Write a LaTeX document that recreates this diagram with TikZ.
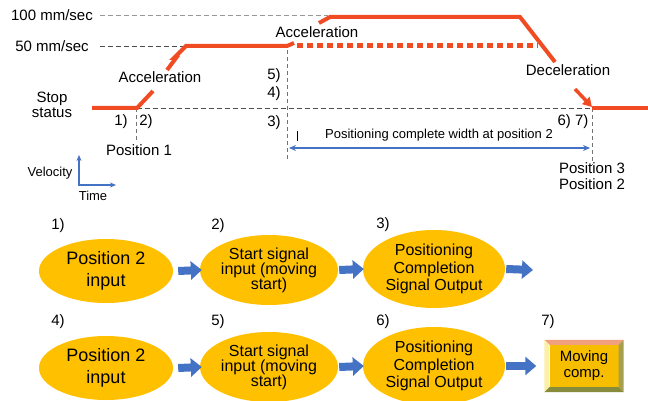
\documentclass[tikz,border=0pt]{standalone}
\usepackage{fontspec}
\setmainfont{Liberation Sans}
\usetikzlibrary{shapes.geometric,arrows.meta}
\definecolor{vred}{RGB}{240,75,35}
\definecolor{vblue}{RGB}{68,114,196}
\definecolor{egold}{RGB}{255,192,0}
\definecolor{bface}{RGB}{247,190,0}
\definecolor{btop}{RGB}{240,160,125}
\definecolor{bleft}{RGB}{250,240,170}
\definecolor{bbot}{RGB}{135,140,60}
\definecolor{bright}{RGB}{165,160,80}
\begin{document}
\begin{tikzpicture}[x=1pt,y=-1pt,
  lbl/.style={font=\fontsize{15}{16}\selectfont, inner sep=0pt, align=center},
  small/.style={font=\fontsize{13}{14}\selectfont, inner sep=0pt},
  numlbl/.style={font=\fontsize{15}{16}\selectfont, inner sep=1pt, fill=white},
  redline/.style={draw=vred, line width=4pt},
  reddash/.style={draw=vred, line width=5pt, dash pattern=on 6pt off 4pt},
  guide/.style={draw=black!70, line width=0.8pt, dash pattern=on 5pt off 3pt},
  vguide/.style={draw=black!55, line width=0.8pt, dash pattern=on 4pt off 3pt},
  topguide/.style={draw=black!40, line width=0.8pt, dash pattern=on 5pt off 3pt},
  ell/.style={ellipse, fill=egold, inner sep=0pt, align=center},
  blockarr/.style={draw=vblue, line width=8pt, -{Triangle[length=11pt,width=18pt]}},
  axis/.style={draw=vblue, line width=1.5pt, -{Stealth[length=6pt,width=5pt]}}
]
\useasboundingbox[fill=white] (0,0) rectangle (648,401);

% ---------- upper chart ----------
\node[lbl] (v100) at (52,15) {100 mm/sec};
\node[lbl] (v50) at (52,46) {50 mm/sec};
\coordinate (g100a) at (100,15);
\coordinate (g100b) at (328,15);
\draw[topguide] (g100a) -- (g100b);
\coordinate (g50a) at (100,46);
\coordinate (g50b) at (185,46);
\draw[guide] (g50a) -- (g50b);

% baseline
\coordinate (base0) at (137,108);
\coordinate (base1) at (590,108);
\draw[guide] (base0) -- (base1);

% verticals
\draw[vguide] (136,108) -- (136,141);
\draw[vguide] (287,50) -- (287,160);
\draw[vguide] (592,108) -- (592,165);

% red profile
\draw[redline] (92,108) -- (137,108) -- (153,91);
\draw[redline] (167,70) -- (176,58) -- (174,58) -- (186,46) -- (287,46) -- (294,43);
\draw[redline] (319,23) -- (330,17) -- (520,17) -- (555,62);
\draw[reddash] (297,46) -- (538,46);
\draw[draw=vred, line width=3.5pt, -{Triangle[length=9pt,width=10pt]}] (575,89) -- (592,107);
\draw[redline] (592,108) -- (648,108);

% labels
\node[lbl] (acc1) at (160,77) {Acceleration};
\node[lbl] (acc2) at (317,32) {Acceleration};
\node[lbl] (dec) at (568,70) {Deceleration};
\node[lbl] (stop) at (52,105) {Stop\\[-1pt]status};
\node[lbl] (n1) at (121,122) {1)};
\node[lbl] (n2) at (146,122) {2)};
\node[lbl] (pos1) at (139,150) {Position 1};
\node[lbl] (n5) at (274,76) {5)};
\node[lbl] (n4) at (274,94) {4)};
\node[lbl] (n3) at (274,123) {3)};
\node[lbl] (n67) at (573,122) {6) 7)};
\node[small] (pcw) at (439,135) {Positioning complete width at position 2};
\node[lbl] (pos3) at (592,168) {Position 3};
\node[lbl] (pos2) at (592,184) {Position 2};

% width arrow
\coordinate (wa) at (289,148);
\coordinate (wb) at (590,148);
\draw[draw=vblue, line width=1.5pt, {Stealth[length=7pt,width=6pt]}-{Stealth[length=7pt,width=6pt]}] (wa) -- (wb);
\draw[black, line width=0.8pt] (297,131) -- (297,141);

% axes legend
\coordinate (ax0) at (79,185);
\coordinate (axy) at (79,155);
\coordinate (axx) at (116,185);
\draw[axis] (79,186) -- (axy);
\draw[axis] (ax0) -- (axx);
\node[small] (vel) at (50,173) {Velocity};
\node[small] (time) at (93,196) {Time};

% ---------- flow rows ----------
\node[ell, minimum width=134pt, minimum height=64pt, font=\fontsize{18}{22}\selectfont] (e1) at (106,271) {Position 2\\input};
\node[ell, minimum width=138pt, minimum height=70pt, font=\fontsize{16}{15}\selectfont] (e2) at (269,270) {Start signal\\input (moving\\start)};
\node[ell, minimum width=142pt, minimum height=78pt, font=\fontsize{16}{17.5}\selectfont] (e3) at (434,269) {Positioning\\Completion\\Signal Output};
\coordinate (end3) at (533,270);

\node[ell, minimum width=134pt, minimum height=64pt, font=\fontsize{18}{22}\selectfont] (e4) at (106,368) {Position 2\\input};
\node[ell, minimum width=138pt, minimum height=70pt, font=\fontsize{16}{15}\selectfont] (e5) at (269,367) {Start signal\\input (moving\\start)};
\node[ell, minimum width=142pt, minimum height=78pt, font=\fontsize{16}{17.5}\selectfont] (e6) at (434,366) {Positioning\\Completion\\Signal Output};

% button
\node[fill=bface, minimum width=69pt, minimum height=42pt, inner sep=0pt, align=center, font=\fontsize{15}{16}\selectfont] (mc) at (584,366) {Moving\\comp.};
\fill[btop] (mc.north west) -- ([xshift=-5pt,yshift=5pt]mc.north west) -- ([xshift=5pt,yshift=5pt]mc.north east) -- (mc.north east) -- cycle;
\fill[bleft] (mc.north west) -- ([xshift=-5pt,yshift=5pt]mc.north west) -- ([xshift=-5pt,yshift=-5pt]mc.south west) -- (mc.south west) -- cycle;
\fill[bbot] (mc.south west) -- ([xshift=-5pt,yshift=-5pt]mc.south west) -- ([xshift=5pt,yshift=-5pt]mc.south east) -- (mc.south east) -- cycle;
\fill[bright] (mc.north east) -- ([xshift=5pt,yshift=5pt]mc.north east) -- ([xshift=5pt,yshift=-5pt]mc.south east) -- (mc.south east) -- cycle;

% block arrows
\draw[blockarr] ([xshift=5pt]e1.east) -- ([xshift=2pt]e2.west);
\draw[blockarr] ([xshift=1pt]e2.east) -- ([xshift=1pt]e3.west);
\draw[blockarr] ([xshift=1pt]e3.east) -- (end3);
\draw[blockarr] ([xshift=5pt]e4.east) -- ([xshift=2pt]e5.west);
\draw[blockarr] ([xshift=1pt]e5.east) -- ([xshift=1pt]e6.west);
\draw[blockarr] ([xshift=1pt]e6.east) -- ([xshift=-13pt]mc.west);

% step numbers
\node[numlbl] (s1) at (58,226) {1)};
\node[numlbl] (s2) at (218,226) {2)};
\node[numlbl] (s3) at (383,225) {3)};
\node[numlbl] (s4) at (58,322) {4)};
\node[numlbl] (s5) at (218,322) {5)};
\node[numlbl] (s6) at (383,322) {6)};
\node[numlbl] (s7) at (548,322) {7)};
\end{tikzpicture}
\end{document}
